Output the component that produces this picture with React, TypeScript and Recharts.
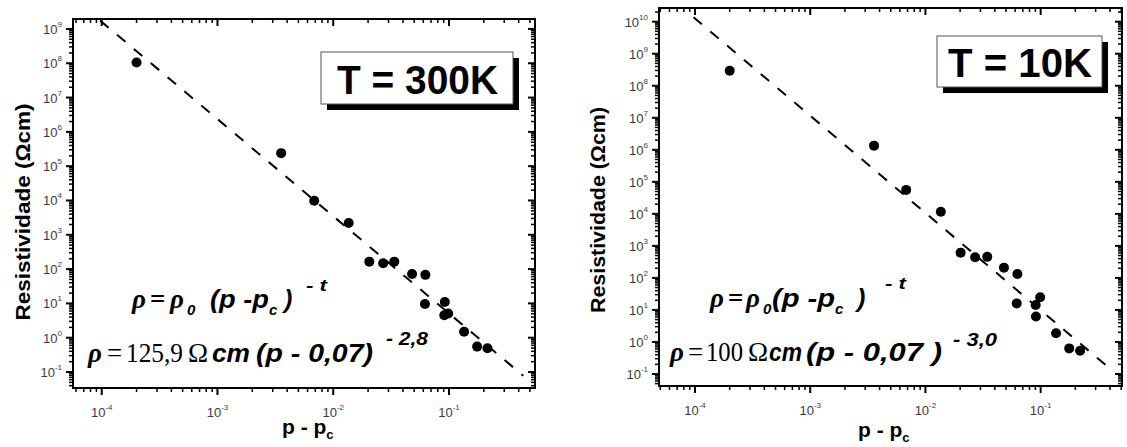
import React from 'react';
import { ScatterChart, Scatter, XAxis, YAxis } from 'recharts';

// T = 300K : p - pc vs resistivity (Ohm cm)
const x300 = [2e-4, 3.55e-3, 6.85e-3, 1.36e-2, 2.05e-2, 2.7e-2, 3.37e-2, 4.8e-2, 6.25e-2, 6.2e-2, 9.2e-2, 9.1e-2, 9.85e-2, 0.135, 0.175, 0.215];
const rho300 = [1.05e8, 2.4e5, 9.8e3, 2.2e3, 165, 148, 165, 72, 68, 9.6, 11, 4.5, 5.1, 1.5, 0.55, 0.49];
const fit300X = [9.7e-5, 0.438];
const fit300Y = [1.75e9, 0.078];

// T = 10K
const x10 = [2e-4, 3.58e-3, 6.8e-3, 1.36e-2, 2.02e-2, 2.7e-2, 3.44e-2, 4.8e-2, 6.28e-2, 6.2e-2, 9.05e-2, 9.9e-2, 9.1e-2, 0.136, 0.177, 0.22];
const rho10 = [2.95e8, 1.35e6, 5.6e4, 1.17e4, 615, 440, 455, 209, 133, 16, 14.3, 25, 6.2, 1.86, 0.63, 0.53];
const fit10X = [9.7e-5, 0.375];
const fit10Y = [1.38e10, 0.178];

const SANS = '"Liberation Sans", Arial, Helvetica, sans-serif';
const SERIF = '"Liberation Serif", "Times New Roman", serif';
const LABEL = '#3a3a3a';

// all decade + minor (2..9) ticks inside [lo, hi]
const logTicks = (lo: number, hi: number) => {
  const out: number[] = [];
  for (let e = Math.floor(Math.log10(lo)); e <= Math.ceil(Math.log10(hi)); e++) {
    for (let m = 1; m < 10; m++) {
      const v = m * Math.pow(10, e);
      if (v >= lo && v <= hi) out.push(v);
    }
  }
  return out;
};
const isMajor = (v: number) => Math.abs(Math.log10(v) - Math.round(Math.log10(v))) < 1e-6;
const expOf = (v: number) => String(Math.round(Math.log10(v)));

function XTick(props: any) {
  const { x, payload, box } = props;
  const v = payload.value;
  const major = isMajor(v);
  const len = major ? 7 : 4;
  const w = major ? 2 : 1.5;
  return (
    <g>
      <rect x={x - w / 2} y={box.bottom} width={w} height={len} fill="#000" />
      <rect x={x - w / 2} y={box.top} width={w} height={len} fill="#000" />
      {major ? (
        <text x={x} y={box.bottom + 29} textAnchor="middle" fontFamily={SANS} fontSize={13} fill={LABEL}>
          10<tspan dy={-7} fontSize={8}>{expOf(v)}</tspan>
        </text>
      ) : null}
    </g>
  );
}

function YTick(props: any) {
  const { y, payload, box } = props;
  const v = payload.value;
  const major = isMajor(v);
  const len = major ? 7 : 4;
  const w = major ? 2 : 1.5;
  return (
    <g>
      <rect x={box.left - len} y={y - w / 2} width={len} height={w} fill="#000" />
      <rect x={box.right - len} y={y - w / 2} width={len} height={w} fill="#000" />
      {major ? (
        <text x={box.left - 11} y={y + 5} textAnchor="end" fontFamily={SANS} fontSize={13} fill={LABEL}>
          10<tspan dy={-7} fontSize={8}>{expOf(v)}</tspan>
        </text>
      ) : null}
    </g>
  );
}

const dot = (p: any) => <circle cx={p.cx} cy={p.cy} r={5} fill="#000" />;
const fitLine = { stroke: '#000', strokeWidth: 2, strokeDasharray: '11 11' };

type Box = { left: number; right: number; top: number; bottom: number };

const makePanel = (
  left: number, width: number, box: Box,
  xDomain: [number, number], yDomain: [number, number],
  xs: number[], ys: number[], fx: number[], fy: number[],
) => ({
  left, width, box, xDomain, yDomain,
  data: xs.map((x, i) => ({ x, y: ys[i] })),
  fit: fx.map((x, i) => ({ x, y: fy[i] })),
  xTicks: logTicks(xDomain[0], xDomain[1]),
  yTicks: logTicks(yDomain[0], yDomain[1]),
  xTick: <XTick box={box} />,
  yTick: <YTick box={box} />,
  margin: { top: box.top, right: width - box.right, bottom: 0, left: 0 },
});

const P300 = makePanel(0, 560, { left: 73, right: 535, top: 19, bottom: 388 },
  [Math.pow(10, -4.248), Math.pow(10, -0.257)], [Math.pow(10, -1.466), Math.pow(10, 9.29)],
  x300, rho300, fit300X, fit300Y);
const P10 = makePanel(560, 567, { left: 99, right: 562, top: 8, bottom: 386 },
  [Math.pow(10, -4.3125), Math.pow(10, -0.294)], [Math.pow(10, -1.375), Math.pow(10, 10.428)],
  x10, rho10, fit10X, fit10Y);

function Panel({ p }: { p: typeof P300 }) {
  return (
    <div style={{ position: 'absolute', left: p.left, top: 0 }}>
      <ScatterChart width={p.width} height={447} margin={p.margin}>
        <XAxis
          type="number" dataKey="x" scale="log" domain={p.xDomain} allowDataOverflow
          ticks={p.xTicks} interval={0} height={447 - p.box.bottom}
          axisLine={{ stroke: '#000', strokeWidth: 2 }} tickLine={false} tick={p.xTick}
        />
        <YAxis
          type="number" dataKey="y" scale="log" domain={p.yDomain} allowDataOverflow
          ticks={p.yTicks} interval={0} width={p.box.left}
          axisLine={{ stroke: '#000', strokeWidth: 2 }} tickLine={false} tick={p.yTick}
        />
        <Scatter data={p.fit} fill="none" line={fitLine} isAnimationActive={false} />
        <Scatter data={p.data} shape={dot} isAnimationActive={false} />
      </ScatterChart>
    </div>
  );
}

// plot frame as four filled bars (page coordinates)
function Frame({ p }: { p: typeof P300 }) {
  const { box } = p;
  const l = p.left + box.left;
  const r = p.left + box.right;
  return (
    <g>
      <rect x={l - 1} y={box.top - 1} width={r - l + 2} height={2} fill="#000" />
      <rect x={l - 1} y={box.bottom - 1} width={r - l + 2} height={2} fill="#000" />
      <rect x={l - 1} y={box.top - 1} width={2} height={box.bottom - box.top + 2} fill="#000" />
      <rect x={r - 1} y={box.top - 1} width={2} height={box.bottom - box.top + 2} fill="#000" />
    </g>
  );
}

const sansBI = { fontFamily: SANS, fontWeight: 700, fontStyle: 'italic' as const, fill: '#000' };
const serifI = { fontFamily: SERIF, fontStyle: 'italic' as const, fontWeight: 700, fill: '#000' };
const serifR = { fontFamily: SERIF, fill: '#000' };

function Overlay() {
  return (
    <svg width={1127} height={447} style={{ position: 'absolute', left: 0, top: 0, pointerEvents: 'none', zIndex: 5 }}>
      {/* axis titles */}
      <text transform="translate(30,212) rotate(-90)" textAnchor="middle" fontFamily={SANS} fontWeight={700} fontSize={21} textLength={217} lengthAdjust="spacingAndGlyphs">
        Resistividade (Ωcm)
      </text>
      <text transform="translate(605,210) rotate(-90)" textAnchor="middle" fontFamily={SANS} fontWeight={700} fontSize={21} textLength={206} lengthAdjust="spacingAndGlyphs">
        Resistividade (Ωcm)
      </text>
      <text x={282} y={434} fontFamily={SANS} fontWeight={700} fontSize={21}>
        p - p<tspan dy={5} fontSize={13}>c</tspan>
      </text>
      <text x={858} y={437} fontFamily={SANS} fontWeight={700} fontSize={21}>
        p - p<tspan dy={5} fontSize={13}>c</tspan>
      </text>

      {/* temperature boxes */}
      <rect x={327} y={58} width={192} height={52} fill="#000" />
      <rect x={321} y={52} width={192} height={52} fill="#fff" stroke="#555" strokeWidth={1} />
      <text x={337} y={94} fontFamily={SANS} fontWeight={700} fontSize={40} textLength={161} lengthAdjust="spacingAndGlyphs">T = 300K</text>
      <rect x={943} y={42} width={165} height={51} fill="#000" />
      <rect x={937} y={36} width={165} height={51} fill="#fff" stroke="#555" strokeWidth={1} />
      <text x={948} y={77} fontFamily={SANS} fontWeight={700} fontSize={40} textLength={144} lengthAdjust="spacingAndGlyphs">T = 10K</text>

      {/* left formulas */}
      <text x={132} y={308} fontSize={27} {...serifI}>ρ</text>
      <text x={150} y={308} fontSize={27} {...serifR} fontWeight={700}>=</text>
      <text x={170} y={308} fontSize={27} {...serifI}>ρ</text>
      <text x={187} y={315} fontSize={15} {...sansBI}>0</text>
      <text x={210} y={308} fontSize={25} {...sansBI} textLength={59} lengthAdjust="spacingAndGlyphs">(p -p</text>
      <text x={269} y={315} fontSize={15} {...sansBI}>c</text>
      <text x={284} y={308} fontSize={25} {...sansBI}>)</text>
      <text x={306} y={291} fontSize={17} {...sansBI} textLength={21} lengthAdjust="spacingAndGlyphs">- t</text>

      <text x={88} y={362} fontSize={27} {...serifI}>ρ</text>
      <text x={107} y={362} fontSize={27} {...serifR}>=</text>
      <text x={126} y={362} fontSize={27} {...serifR} textLength={57} lengthAdjust="spacingAndGlyphs">125,9</text>
      <text x={188} y={362} fontSize={27} {...serifR}>Ω</text>
      <text x={212} y={362} fontSize={26} {...sansBI} textLength={38} lengthAdjust="spacingAndGlyphs">cm</text>
      <text x={256} y={362} fontSize={26} {...sansBI} textLength={117} lengthAdjust="spacingAndGlyphs">(p - 0,07)</text>
      <text x={386} y={345} fontSize={19} {...sansBI} textLength={42} lengthAdjust="spacingAndGlyphs">- 2,8</text>

      {/* right formulas */}
      <text x={710} y={307} fontSize={27} {...serifI}>ρ</text>
      <text x={728} y={307} fontSize={27} {...serifR} fontWeight={700}>=</text>
      <text x={746} y={307} fontSize={27} {...serifI}>ρ</text>
      <text x={763} y={314} fontSize={15} {...sansBI}>0</text>
      <text x={772} y={307} fontSize={25} {...sansBI} textLength={63} lengthAdjust="spacingAndGlyphs">(p -p</text>
      <text x={835} y={314} fontSize={15} {...sansBI}>c</text>
      <text x={857} y={307} fontSize={25} {...sansBI}>)</text>
      <text x={885} y={289} fontSize={17} {...sansBI} textLength={21} lengthAdjust="spacingAndGlyphs">- t</text>

      <text x={670} y={361} fontSize={27} {...serifI}>ρ</text>
      <text x={688} y={361} fontSize={27} {...serifR}>=</text>
      <text x={706} y={361} fontSize={27} {...serifR} textLength={37} lengthAdjust="spacingAndGlyphs">100</text>
      <text x={748} y={361} fontSize={27} {...serifR}>Ω</text>
      <text x={769} y={361} fontSize={26} {...sansBI} textLength={33} lengthAdjust="spacingAndGlyphs">cm</text>
      <text x={806} y={361} fontSize={26} {...sansBI} textLength={136} lengthAdjust="spacingAndGlyphs">(p - 0,07 )</text>
      <text x={953} y={346} fontSize={19} {...sansBI} textLength={44} lengthAdjust="spacingAndGlyphs">- 3,0</text>

      <Frame p={P300} />
      <Frame p={P10} />
    </svg>
  );
}

export default function App() {
  return (
    <div style={{ position: 'absolute', left: 0, top: 0, width: 1127, height: 447, background: '#fff' }}>
      <Panel p={P300} />
      <Panel p={P10} />
      <Overlay />
    </div>
  );
}
